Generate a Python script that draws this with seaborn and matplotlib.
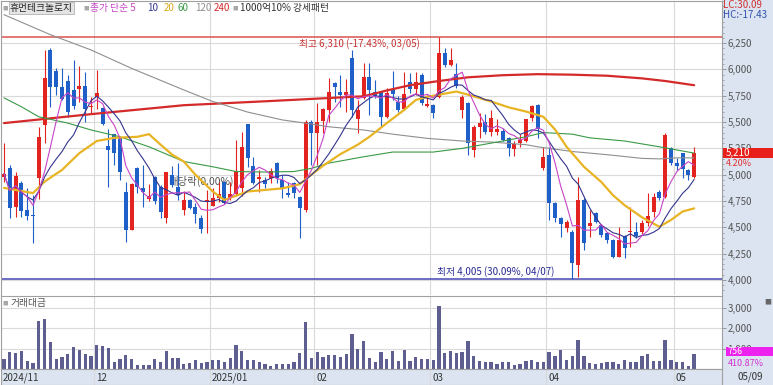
import numpy as np
import pandas as pd
import matplotlib
matplotlib.use('Agg')
import matplotlib.pyplot as plt
import matplotlib.transforms as mtrans
from matplotlib.patches import Rectangle
from matplotlib.ticker import MultipleLocator, FuncFormatter
import seaborn as sns

# 휴먼테크놀로지 일봉 (2024/11/08 ~ 2025/05/09)
opens = [4975, 5060, 4690, 4925, 4665, 4620, 4965, 5475, 6185, 5985,
         5830, 5890, 5800, 5810, 5845, 5640, 5735, 5635, 5275, 5385,
         5350, 4840, 4475, 5060, 4875, 4770, 4980, 4885, 4585, 5000,
         4885, 4665, 4755, 4695, 4590, 4750, 4705, 4780, 4935, 4775,
         4815, 4875, 5480, 5085, 4960, 4950, 4970, 5115, 4950, 4830,
         4920, 4785, 4665, 5505, 5395, 5510, 5610, 5870, 5790, 5755,
         6105, 5530, 5725, 5925, 5785, 5785, 5550, 5815, 5690, 5620,
         5885, 5810, 5945, 5650, 5660, 5740, 6155, 6040, 5955, 5615,
         5680, 5235, 5450, 5500, 5405, 5410, 5415, 5345, 5245, 5300,
         5320, 5535, 5665, 5060, 5190, 4735, 4585, 4490, 4460, 4145,
         4760, 4515, 4635, 4520, 4445, 4375, 4220, 4420, 4455, 4460,
         4460, 4540, 4650, 4835, 4790, 5250, 5115, 5205, 5040, 4980]
highs = [5300, 5095, 5030, 4940, 4870, 4810, 5455, 6185, 6200, 6015,
         6015, 5950, 6090, 6035, 5980, 5740, 5995, 5640, 5435, 5390,
         5360, 4935, 4920, 5075, 5095, 4910, 4990, 4900, 5030, 5085,
         5110, 4845, 4770, 4730, 4615, 4855, 4870, 4935, 4940, 4935,
         5330, 5410, 5485, 5170, 5045, 4980, 5060, 5125, 5000, 4935,
         4935, 4800, 5520, 5520, 5680, 5630, 5915, 5885, 5950, 5905,
         6185, 5710, 6060, 6065, 5900, 5790, 5825, 5985, 5750, 5980,
         5970, 5980, 5965, 5760, 5670, 6310, 6200, 6200, 6060, 5760,
         5690, 5475, 5585, 5575, 5610, 5525, 5445, 5360, 5320, 5385,
         5530, 5660, 5670, 5265, 5265, 4740, 4600, 4570, 4470, 4980,
         4775, 4665, 4650, 4530, 4455, 4390, 4505, 4430, 4695, 4555,
         4570, 4825, 4825, 4850, 5395, 5265, 5155, 5210, 5050, 5265]
lows = [4935, 4585, 4600, 4600, 4570, 4350, 4770, 5300, 5645, 5760,
        5710, 5550, 5620, 5695, 5505, 5585, 5620, 5470, 4885, 5095,
        4945, 4365, 4470, 4825, 4695, 4750, 4720, 4585, 4540, 4880,
        4760, 4615, 4675, 4540, 4450, 4450, 4700, 4745, 4720, 4760,
        4800, 4800, 5075, 4910, 4840, 4870, 4920, 4920, 4775, 4790,
        4775, 4395, 4650, 5095, 5095, 5400, 5505, 5695, 5645, 5600,
        5550, 5395, 5720, 5565, 5725, 5455, 5540, 5705, 5595, 5615,
        5775, 5760, 5660, 5640, 5535, 5725, 6020, 6030, 5820, 5535,
        5190, 5170, 5350, 5385, 5370, 5380, 5320, 5180, 5180, 5260,
        5310, 5510, 5345, 5045, 4570, 4555, 4410, 4460, 4005, 4030,
        4285, 4410, 4540, 4410, 4350, 4205, 4215, 4205, 4315, 4395,
        4440, 4510, 4600, 4760, 4775, 5095, 5045, 4965, 4950, 4965]
closes = [5010, 4685, 4990, 4655, 4610, 4605, 5360, 5915, 5830, 5830,
          5720, 5600, 5655, 5845, 5620, 5655, 5775, 5480, 5235, 5205,
          5030, 4475, 4910, 4885, 4835, 4800, 4750, 4650, 5025, 4905,
          4810, 4755, 4685, 4625, 4485, 4760, 4780, 4815, 4735, 4815,
          5035, 5260, 5155, 4920, 4980, 4910, 5035, 4970, 4870, 4810,
          4825, 4680, 5505, 5395, 5505, 5620, 5790, 5835, 5755, 5790,
          5610, 5615, 5930, 5805, 5745, 5550, 5775, 5765, 5610, 5770,
          5810, 5885, 5680, 5670, 5590, 6155, 6040, 6090, 5845, 5740,
          5300, 5455, 5490, 5405, 5535, 5435, 5330, 5255, 5295, 5330,
          5525, 5655, 5430, 5170, 4730, 4585, 4530, 4555, 4165, 4760,
          4350, 4540, 4555, 4430, 4380, 4220, 4380, 4300, 4465, 4420,
          4540, 4610, 4790, 4780, 5375, 5110, 5085, 5050, 5000, 5210]
# 거래대금 (백만원)
trade_value = [510, 840, 790, 870, 375, 295, 2345, 2480, 1330, 510,
               590, 755, 1065, 950, 755, 620, 1165, 1115, 1015, 325,
               510, 670, 475, 195, 195, 195, 475, 325, 900, 540,
               540, 260, 295, 425, 310, 360, 425, 425, 360, 555,
               1185, 870, 425, 425, 360, 225, 165, 260, 260, 260,
               325, 790, 2295, 540, 840, 570, 705, 705, 590, 755,
               1725, 985, 1360, 540, 360, 820, 495, 880, 410, 950,
               410, 590, 475, 475, 425, 3090, 790, 885, 805, 820,
               1360, 655, 410, 325, 360, 260, 360, 360, 210, 260,
               395, 445, 325, 360, 855, 620, 935, 425, 620, 1445,
               620, 310, 260, 310, 325, 360, 260, 425, 360, 325,
               620, 755, 410, 410, 1445, 425, 360, 360, 148, 756]

# 이동평균선
ma20_idx = [0, 3, 5, 7, 10, 13, 16, 19, 23, 25, 27, 29, 31, 33, 36, 38, 42, 45, 48, 51,
            53, 55, 58, 61, 63, 66, 69, 71, 73, 75, 78, 80, 84, 87, 90, 93, 95, 97, 100, 103,
            105, 107, 110, 113, 115, 117, 119]
ma20_val = [4875, 4845, 4825, 4935, 5045, 5205, 5320, 5350, 5360, 5385, 5285, 5190, 5125, 5000, 4840, 4760, 4840, 4855, 4870, 4910,
            5000, 5085, 5195, 5285, 5360, 5490, 5615, 5710, 5740, 5760, 5790, 5760, 5695, 5640, 5600, 5550, 5430, 5265, 5075, 4930,
            4805, 4710, 4595, 4505, 4570, 4650, 4680]
ma60_idx = [0, 3, 6, 11, 15, 20, 25, 31, 36, 40, 45, 50, 53, 56, 59, 62, 67, 74, 79, 84,
            90, 93, 98, 101, 107, 113, 119]
ma60_val = [5730, 5645, 5550, 5490, 5425, 5360, 5265, 5125, 5075, 5030, 5025, 5030, 5060, 5110, 5140, 5170, 5215, 5215, 5250, 5300,
            5360, 5400, 5385, 5350, 5320, 5265, 5205]
ma120_idx = [0, 8, 15, 22, 31, 36, 42, 48, 52, 56, 62, 67, 73, 79, 84, 90, 92, 98, 104, 110, 113, 116, 119]
ma120_val = [6520, 6330, 6185, 6010, 5805, 5695, 5595, 5520, 5490, 5455, 5425, 5385, 5345, 5320, 5310, 5285, 5265, 5220, 5190, 5155,
             5150, 5160, 5160]
ma240_idx = [0, 15, 31, 46, 62, 66, 70, 75, 80, 86, 92, 98, 104, 110, 114, 119]
ma240_val = [5490, 5575, 5660, 5700, 5745, 5800, 5850, 5890, 5925, 5945, 5955, 5950, 5940, 5915, 5890, 5850]

month_pos = [-0.5, 15.5, 35.5, 53.5, 73.5, 93.5, 115.5]
month_labels = ['2024/11', '12', '2025/01', '02', '03', '04', '05']
price_ticks = [4000, 4250, 4500, 4750, 5000, 5250, 5500, 5750, 6000, 6250]
value_ticks = [1000, 2000, 3000]
high_price, high_idx = 6310, 75
low_price, low_idx = 4005, 98

RED = '#e3231f'
BLUE = '#1f5fc8'
GRID = '#dadada'
PANEL = '#dbe4f0'
VOLC = '#5e5e90'

sns.set_style('white')
plt.rcParams['font.family'] = ['Noto Sans CJK KR', 'DejaVu Sans']
plt.rcParams['axes.unicode_minus'] = False

W, H = 773, 385
fig = plt.figure(figsize=(W / 100, H / 100), dpi=100)


def box(x0, y0, x1, y1):
    return [x0 / W, 1 - y1 / H, (x1 - x0) / W, (y1 - y0) / H]


def fx(x):
    return x / W


def fy(y):
    return 1 - y / H


# 우측 눈금 패널 배경 (축보다 아래에)
fig.patches.append(Rectangle((722 / W, 0), 1 - 722 / W, 1, transform=fig.transFigure,
                             facecolor=PANEL, edgecolor='none', zorder=-5))

ax_p = fig.add_axes(box(1, 1, 722, 295))
ax_v = fig.add_axes(box(1, 296, 722, 369), sharex=ax_p)
ax_d = fig.add_axes(box(1, 369, 722, 385), sharex=ax_p)

o = np.array(opens)
h = np.array(highs)
l = np.array(lows)
c = np.array(closes)
idx = np.arange(len(c))

# 캔들
ccol = np.where(c > o, RED, BLUE)
ax_p.vlines(idx, l, h, colors=ccol, lw=0.8, zorder=3)
ax_p.bar(idx, np.maximum(np.abs(c - o), 10), bottom=np.minimum(o, c), width=0.7,
         color=ccol, linewidth=0, zorder=4)

# 이동평균
ma5 = pd.Series(c).rolling(5, min_periods=1).mean()
ma10 = pd.Series(c).rolling(10, min_periods=1).mean()
sns.lineplot(x=ma240_idx, y=ma240_val, ax=ax_p, color='#d42a2a', linewidth=1.6, zorder=5)
sns.lineplot(x=ma120_idx, y=ma120_val, ax=ax_p, color='#8f8f8f', linewidth=0.8, zorder=5)
sns.lineplot(x=ma60_idx, y=ma60_val, ax=ax_p, color='#3a9a45', linewidth=0.8, zorder=5)
sns.lineplot(x=ma20_idx, y=ma20_val, ax=ax_p, color='#e8b424', linewidth=1.6, zorder=5)
sns.lineplot(x=idx, y=ma10, ax=ax_p, color='#34348f', linewidth=0.8, zorder=6)
sns.lineplot(x=idx, y=ma5, ax=ax_p, color='#c744c7', linewidth=0.8, zorder=6)

# 최고/최저
ax_p.axhline(high_price, color='#d9534f', lw=1.1, zorder=2)
ax_p.axhline(low_price, color='#4646b4', lw=1.1, zorder=2)
ax_p.annotate('최고 6,310 (-17.43%, 03/05)', xy=(high_idx, high_price), xytext=(-19, -8),
              textcoords='offset pixels', ha='right', va='center', fontsize=7, color='#c83232')
ax_p.annotate('최저 4,005 (30.09%, 04/07)', xy=(low_idx, low_price), xytext=(-18, 7),
              textcoords='offset pixels', ha='right', va='center', fontsize=7, color='#2a2a96')
ax_p.text(34, 4940, '배당락(0.00%)', ha='center', va='center', fontsize=7.5, color='#555555', zorder=2.5)

# 거래대금
sns.barplot(x=idx, y=trade_value, ax=ax_v, native_scale=True, width=0.58, color=VOLC,
            saturation=1, errorbar=None, linewidth=0)

# 축 설정
ax_p.set_xlim(-0.52, 123.8)
ax_p.set_ylim(3857, 6650)
ax_v.set_ylim(0, 3590)
ax_d.set_ylim(0, 1)

for ax in (ax_p, ax_v, ax_d):
    ax.set_xlabel('')
    ax.set_ylabel('')
    ax.set_xticks(month_pos)
    ax.grid(axis='x', color=GRID, lw=0.8)
    ax.tick_params(axis='x', length=0, labelbottom=False)
    ax.set_axisbelow(True)
    for s in ax.spines.values():
        s.set_color('#a0a0a0')
        s.set_linewidth(0.8)
ax_p.spines['bottom'].set_visible(False)
ax_d.set_facecolor(PANEL)
ax_d.set_yticks([])

fmt = FuncFormatter(lambda v, p: f'{v:,.0f}')
for ax, ticks in ((ax_p, price_ticks), (ax_v, value_ticks)):
    ax.yaxis.tick_right()
    ax.set_yticks(ticks)
    ax.yaxis.set_major_formatter(fmt)
    ax.grid(axis='y', color=GRID, lw=0.8)
    ax.tick_params(axis='y', which='major', length=3, width=0.6, colors='#8a8a8a',
                   labelcolor='#555555', labelsize=7, pad=1)
ax_p.yaxis.set_minor_locator(MultipleLocator(50))
ax_p.tick_params(axis='y', which='minor', length=1.5, width=0.5, colors='#8a8a8a')

shift = mtrans.ScaledTranslation(2 / 100, 0, fig.dpi_scale_trans)
for pos, lab in zip(month_pos, month_labels):
    ax_d.text(pos, 0.45, lab, transform=ax_d.get_xaxis_transform() + shift,
              ha='left', va='center', fontsize=7, color='#333333')

# 상단 범례
fig.text(fx(2), fy(8), '■', fontsize=4, color='#a8a8a8', va='center')
fig.text(fx(10), fy(8), '휴먼테크놀로지', fontsize=7, color='#222222', va='center',
         bbox=dict(boxstyle='square,pad=0.15', fc='#e4e4e4', ec='#b4b4b4', lw=0.6))
fig.text(fx(83), fy(8), '■', fontsize=4, color='#a8a8a8', va='center')
legend_items = [(90, '종가 단순 5', '#c744c7'), (147, '10', '#34348f'), (164, '20', '#d9a817'),
                (178, '60', '#3a9a45'), (195, '120', '#8f8f8f'), (214, '240', '#d42a2a')]
for x, t, col in legend_items:
    fig.text(fx(x), fy(8), t, fontsize=7, color=col, va='center')
fig.text(fx(232), fy(8), '■', fontsize=4, color='#a8a8a8', va='center')
fig.text(fx(240), fy(8), '1000억10% 강세패턴', fontsize=7, color='#333333', va='center')

# 우측 패널
fig.text(fx(723), fy(5.5), 'LC:30.09', fontsize=7, color='#d03030', va='center')
fig.text(fx(723), fy(14.5), 'HC:-17.43', fontsize=7, color='#3050b0', va='center')

tp = mtrans.blended_transform_factory(ax_p.transAxes, ax_p.transData)
ax_p.add_patch(Rectangle((1.002, c[-1] - 48), 0.07, 95, transform=tp, fc='#e8201c',
                         ec='none', clip_on=False, zorder=10))
ax_p.text(1.005, c[-1], f'{c[-1]:,}', transform=tp, color='white', fontsize=7,
          va='center', ha='left', clip_on=False, zorder=11)
ax_p.text(1.005, c[-1] - 108, '4.20%', transform=tp, color='#e03030', fontsize=6.5,
          va='center', ha='left', clip_on=False, zorder=11)

tv = mtrans.blended_transform_factory(ax_v.transAxes, ax_v.transData)
ax_v.add_patch(Rectangle((1.006, trade_value[-1] - 130), 0.07, 450, transform=tv, fc='#ee22ee',
                         ec='none', clip_on=False, zorder=10))
ax_v.text(1.008, trade_value[-1] + 95, f'{trade_value[-1]:,}', transform=tv, color='white',
          fontsize=6.5, va='center', ha='left', clip_on=False, zorder=11)
ax_v.text(1.008, trade_value[-1] - 480, '410.87%', transform=tv, color='#d030d0', fontsize=6.5,
          va='center', ha='left', clip_on=False, zorder=11)

fig.text(fx(2), fy(303), '■', fontsize=4, color='#a8a8a8', va='center')
fig.text(fx(11), fy(303), '거래대금', fontsize=7, color='#555555', va='center')
fig.text(fx(764), fy(302), '■', fontsize=5, color='#666666', va='center')
fig.text(fx(737), fy(377), '05/09', fontsize=7, color='#333333', va='center')

fig.savefig('out.png', dpi=100)
